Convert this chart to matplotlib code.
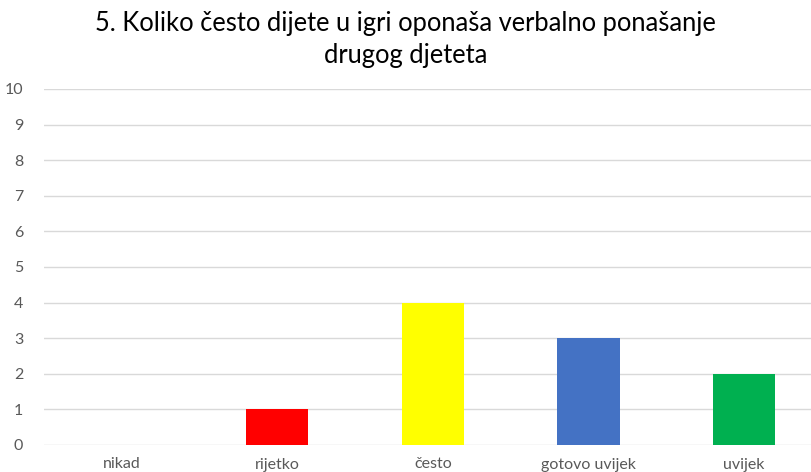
import matplotlib.pyplot as plt

categories = ["nikad", "rijetko", "često", "gotovo uvijek", "uvijek"]
values = [0, 1, 4, 3, 2]
colors = ["#4472C4", "#FF0000", "#FFFF00", "#4472C4", "#00B050"]
title = "5. Koliko često dijete u igri oponaša verbalno ponašanje\ndrugog djeteta"

plt.rcParams['font.family'] = ['Lato', 'DejaVu Sans']

W, H = 811, 472
fig = plt.figure(figsize=(W / 100, H / 100), dpi=100)
ax = fig.add_axes([44 / W, (H - 445) / H, 1 - 44 / W, (445 - 89) / H])

x = range(len(categories))
ax.bar(x, values, width=0.4, color=colors, zorder=3)

ax.set_ylim(0, 10)
ax.set_yticks(range(0, 11))
ax.set_xlim(-0.5, 4.43)
ax.set_xticks(list(x))
ax.set_xticklabels(categories)
ax.grid(axis='y', color='#D9D9D9', linewidth=1, zorder=0)
for s in ax.spines.values():
    s.set_visible(False)
ax.tick_params(axis='both', length=0, colors='#595959', labelsize=11.5)
ax.tick_params(axis='y', pad=15)
ax.tick_params(axis='x', pad=9)

fig.text(0.5, 1 - 39.5 / H, title, ha='center', va='center', fontsize=18.4,
         color='#000000', linespacing=1.38)

fig.savefig("out.png", dpi=100)
